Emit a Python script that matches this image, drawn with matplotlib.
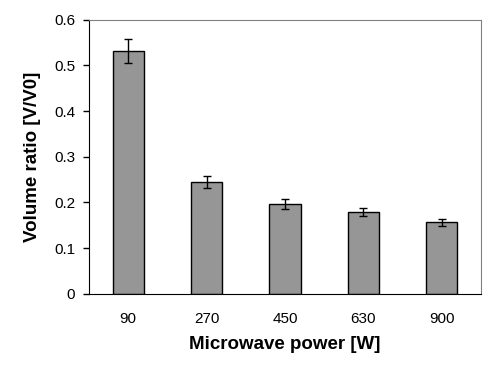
import matplotlib
matplotlib.use("Agg")
import matplotlib.pyplot as plt

# microwave power levels and measured volume ratios
power = ["90", "270", "450", "630", "900"]
ratio = [0.531, 0.244, 0.196, 0.179, 0.157]
ratio_err = [0.026, 0.013, 0.011, 0.009, 0.008]

plt.rcParams['font.family'] = ['Liberation Sans', 'DejaVu Sans']

fig = plt.figure(figsize=(4.98, 3.68), dpi=100)
ax = fig.add_axes([0.1787, 0.2011, 0.7872, 0.7459])

x = range(len(power))
ax.bar(x, ratio, width=0.4, color='#969696', edgecolor='black', linewidth=1,
       yerr=ratio_err, capsize=3, error_kw=dict(elinewidth=1, capthick=1, ecolor='black'),
       zorder=2)

ax.set_xlim(-0.5, len(power) - 0.5)
ax.set_ylim(0, 0.6)
ax.set_yticks([0, 0.1, 0.2, 0.3, 0.4, 0.5, 0.6])
ax.set_yticklabels(["0", "0.1", "0.2", "0.3", "0.4", "0.5", "0.6"])
ax.set_xticks(list(x))
ax.set_xticklabels(power)

ax.tick_params(axis='y', direction='out', length=4, width=1, pad=6, labelsize=11)
ax.tick_params(axis='x', length=0, pad=13, labelsize=11)

for side in ['top', 'right']:
    ax.spines[side].set_color('#808080')
for side in ['left', 'bottom']:
    ax.spines[side].set_color('black')

ax.set_xlabel("Microwave power [W]", fontsize=13.5, fontweight='bold', labelpad=7)
ax.set_ylabel("Volume ratio [V/V0]", fontsize=13.5, fontweight='bold', labelpad=9)

fig.savefig("out.png", dpi=100)
